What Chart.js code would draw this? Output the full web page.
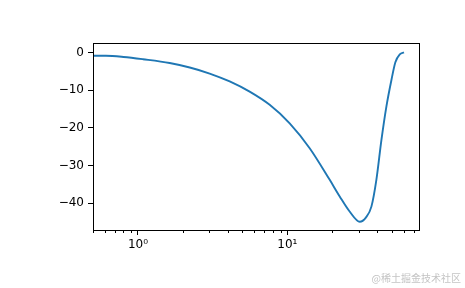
<!DOCTYPE html>
<html>
<head>
<meta charset="utf-8">
<script src="https://cdn.jsdelivr.net/npm/chart.js@4/dist/chart.umd.min.js"></script>
<style>
  html, body { margin: 0; padding: 0; background: #fff; }
  #wrap { width: 465px; height: 288px; }
</style>
</head>
<body>
<div id="wrap"><canvas id="response-chart"></canvas></div>
<script>
// частоты (лог. ось) и усиление, дБ
const freq = [0.5, 0.61, 0.8, 1.08, 1.63, 2.22, 3.02, 4.11, 5.59, 7.61, 10.36, 14.1, 19.2,
              22.4, 26.1, 30.5, 33.5, 36.5, 39.4, 42.6, 46.0, 49.7, 52.8, 56.5, 60.3];
const gain = [-0.9, -0.9, -1.2, -1.8, -2.8, -4.0, -5.6, -7.7, -10.4, -13.9, -18.8, -25.4, -33.8,
              -38.2, -42.2, -44.9, -43.8, -40.9, -33.8, -23.2, -14.3, -7.3, -2.6, -0.5, 0];

const xTicks = [0.5, 0.6, 0.7, 0.8, 0.9, 1, 2, 3, 4, 5, 6, 7, 8, 9, 10, 20, 30, 40, 50, 60, 70];
const xLabels = { 1: '10\u2070', 10: '10\u00b9' };
const yTicks = [-40, -30, -20, -10, 0];

const isMajor = v => v === 1 || v === 10;

Chart.defaults.font.family = '"DejaVu Sans", sans-serif';
Chart.defaults.font.size = 12;
Chart.defaults.color = '#000';

// рамка, малые засечки и подпись в углу
const extras = {
    id: 'extras',
    afterDraw(chart) {
        const ctx = chart.ctx;
        const a = chart.chartArea;
        const xs = chart.scales.x;
        ctx.save();
        ctx.strokeStyle = '#000';
        ctx.lineWidth = 1;
        ctx.strokeRect(Math.round(a.left) + 0.5, Math.round(a.top) + 0.5,
                       Math.round(a.right - a.left), Math.round(a.bottom - a.top));
        xTicks.forEach(v => {
            if (isMajor(v)) return;
            const px = Math.round(xs.getPixelForValue(v)) + 0.5;
            ctx.beginPath();
            ctx.moveTo(px, Math.round(a.bottom));
            ctx.lineTo(px, Math.round(a.bottom) + 3);
            ctx.stroke();
        });
        ctx.fillStyle = '#c4c4c4';
        ctx.font = '10px "Noto Sans CJK SC"';
        ctx.textAlign = 'right';
        ctx.textBaseline = 'middle';
        ctx.fillText('@稀土掘金技术社区', 461, 278);
        ctx.restore();
    }
};

new Chart(document.getElementById('response-chart'), {
    type: 'line',
    data: {
        datasets: [{
            data: freq.map((f, i) => ({ x: f, y: gain[i] })),
            borderColor: '#1f77b4',
            borderWidth: 1.9,
            pointRadius: 0,
            fill: false,
            cubicInterpolationMode: 'monotone'
        }]
    },
    options: {
        responsive: true,
        maintainAspectRatio: false,
        animation: false,
        layout: { padding: { left: 0, right: 46, top: 43, bottom: 0 } },
        plugins: {
            legend: { display: false },
            tooltip: { enabled: false }
        },
        scales: {
            x: {
                type: 'logarithmic',
                min: 0.5,
                max: 76,
                afterBuildTicks: scale => {
                    scale.ticks = xTicks.map(v => ({ value: v, major: isMajor(v) }));
                },
                afterFit: scale => { scale.height = 58; },
                border: { display: true, color: '#000', width: 1 },
                grid: {
                    drawOnChartArea: false,
                    tickLength: 5,
                    tickColor: c => (c.tick && isMajor(c.tick.value)) ? '#000' : 'rgba(0,0,0,0)'
                },
                ticks: {
                    autoSkip: false,
                    maxRotation: 0,
                    padding: 3,
                    callback: v => xLabels[v] || ''
                }
            },
            y: {
                min: -47.1,
                max: 2.5,
                afterBuildTicks: scale => {
                    scale.ticks = yTicks.map(v => ({ value: v }));
                },
                afterFit: scale => { scale.width = 93; },
                border: { display: true, color: '#000', width: 1 },
                grid: { drawOnChartArea: false, tickLength: 5, tickColor: '#000' },
                ticks: {
                    padding: 4,
                    callback: v => v < 0 ? '\u2212' + Math.abs(v) : String(v)
                }
            }
        }
    },
    plugins: [extras]
});
</script>
</body>
</html>
